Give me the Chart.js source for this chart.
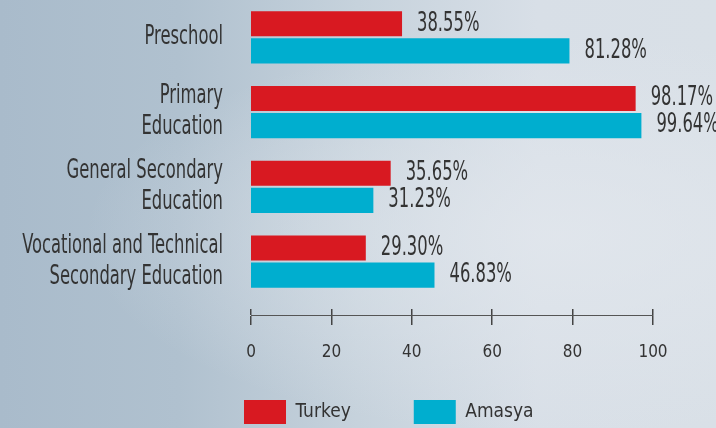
<!DOCTYPE html>
<html>
<head>
<meta charset="utf-8">
<script src="https://cdn.jsdelivr.net/npm/chart.js@4.4.0/dist/chart.umd.min.js"></script>
<style>
html, body { margin: 0; padding: 0; }
body {
    width: 716px; height: 428px; overflow: hidden;
    background:
        radial-gradient(ellipse at 78% 55%, rgba(226,231,237,0.8) 0%, rgba(226,231,237,0) 60%),
        linear-gradient(to right, #a9bbcb 0%, #b0c1cf 25%, #c6d2dc 50%, #d8dfe7 75%, #d9e0e7 100%);
}
#wrap { position: relative; width: 716px; height: 428px; }
</style>
</head>
<body>
<div id="wrap"><canvas id="canvas"></canvas></div>
<script>
var categories = [
    'Preschool',
    ['Primary', 'Education'],
    ['General Secondary', 'Education'],
    ['Vocational and Technical', 'Secondary Education']
];
var turkey = [38.55, 98.17, 35.65, 29.30];
var amasya = [81.28, 99.64, 31.23, 46.83];
var seriesNames = ['Turkey', 'Amasya'];
var xTicks = [0, 20, 40, 60, 80, 100];

var FONT = "'DejaVu Sans Condensed', 'DejaVu Sans', sans-serif";
var SQUEEZE = 0.7;   // narrow the text drawn by the plugin
var LINE = 31;
Chart.defaults.font.family = FONT;
Chart.defaults.color = '#333';

function toPoints(values) {
    return values.map(function(v, i) { return {x: v, y: i}; });
}

// category names left of the bars, percentages right of them
var textLabels = {
    id: 'textLabels',
    afterDatasetsDraw: function(chart) {
        var ctx = chart.ctx;
        var yScale = chart.scales.y;
        var area = chart.chartArea;
        ctx.save();
        ctx.fillStyle = '#333';
        ctx.font = '26px ' + FONT;
        ctx.textBaseline = 'middle';
        ctx.scale(SQUEEZE, 1);
        ctx.textAlign = 'right';
        categories.forEach(function(c, i) {
            var lines = [].concat(c);
            var y0 = yScale.getPixelForValue(i) - (lines.length - 1) * LINE / 2;
            lines.forEach(function(t, k) {
                ctx.fillText(t, (area.left - 28) / SQUEEZE, y0 + k * LINE);
            });
        });
        ctx.textAlign = 'left';
        chart.data.datasets.forEach(function(ds, i) {
            chart.getDatasetMeta(i).data.forEach(function(bar, j) {
                ctx.fillText(ds.data[j].x.toFixed(2) + '%', (bar.x + 15) / SQUEEZE, bar.y);
            });
        });
        ctx.restore();
    }
};

var tickList = function(scale) {
    scale.ticks = xTicks.map(function(v) { return {value: v}; });
};

var config = {
    type: 'bar',
    data: {
        datasets: [
            {
                label: seriesNames[0],
                data: toPoints(turkey),
                backgroundColor: '#d81921',
                borderWidth: 0,
                xAxisID: 'xb',
                yAxisID: 'y',
                barPercentage: 0.926,
                categoryPercentage: 0.726
            },
            {
                label: seriesNames[1],
                data: toPoints(amasya),
                backgroundColor: '#00aecf',
                borderWidth: 0,
                xAxisID: 'xb',
                yAxisID: 'y',
                barPercentage: 0.926,
                categoryPercentage: 0.726
            }
        ]
    },
    options: {
        indexAxis: 'y',
        responsive: true,
        maintainAspectRatio: false,
        animation: false,
        layout: {
            padding: {left: 181, right: 63, top: 0, bottom: -6}
        },
        scales: {
            xb: {
                type: 'linear',
                display: false,
                min: 0,
                max: 102.6
            },
            x: {
                type: 'linear',
                position: {y: 3.716},
                min: 0,
                max: 100,
                afterBuildTicks: tickList,
                grid: {
                    drawOnChartArea: false,
                    tickLength: 9,
                    color: '#444',
                    lineWidth: 1.5
                },
                border: {
                    display: true,
                    dash: [1, 2],
                    color: '#555',
                    width: 1
                },
                ticks: {
                    padding: 18,
                    font: {size: 17},
                    color: '#333'
                }
            },
            // upper half of the tick marks
            xUp: {
                type: 'linear',
                position: {y: 3.716},
                min: 0,
                max: 100,
                afterBuildTicks: tickList,
                grid: {
                    drawOnChartArea: false,
                    tickLength: -6,
                    color: '#444',
                    lineWidth: 1.5
                },
                border: {display: false},
                ticks: {display: false}
            },
            y: {
                type: 'linear',
                reverse: true,
                offset: false,
                min: -0.5,
                max: 4.01,
                afterBuildTicks: function(scale) {
                    scale.ticks = categories.map(function(c, i) { return {value: i}; });
                },
                afterFit: function(scale) {
                    scale.width = 70;
                },
                grid: {display: false, drawTicks: false},
                border: {display: false},
                ticks: {display: false}
            }
        },
        plugins: {
            tooltip: {enabled: false},
            legend: {
                position: 'bottom',
                align: 'start',
                labels: {
                    boxWidth: 42,
                    boxHeight: 24,
                    padding: 63,
                    font: {size: 19},
                    color: '#333'
                }
            }
        }
    },
    plugins: [textLabels]
};

window.onload = function() {
    var ctx = document.getElementById('canvas').getContext('2d');
    window.myBar = new Chart(ctx, config);
};
</script>
</body>
</html>
